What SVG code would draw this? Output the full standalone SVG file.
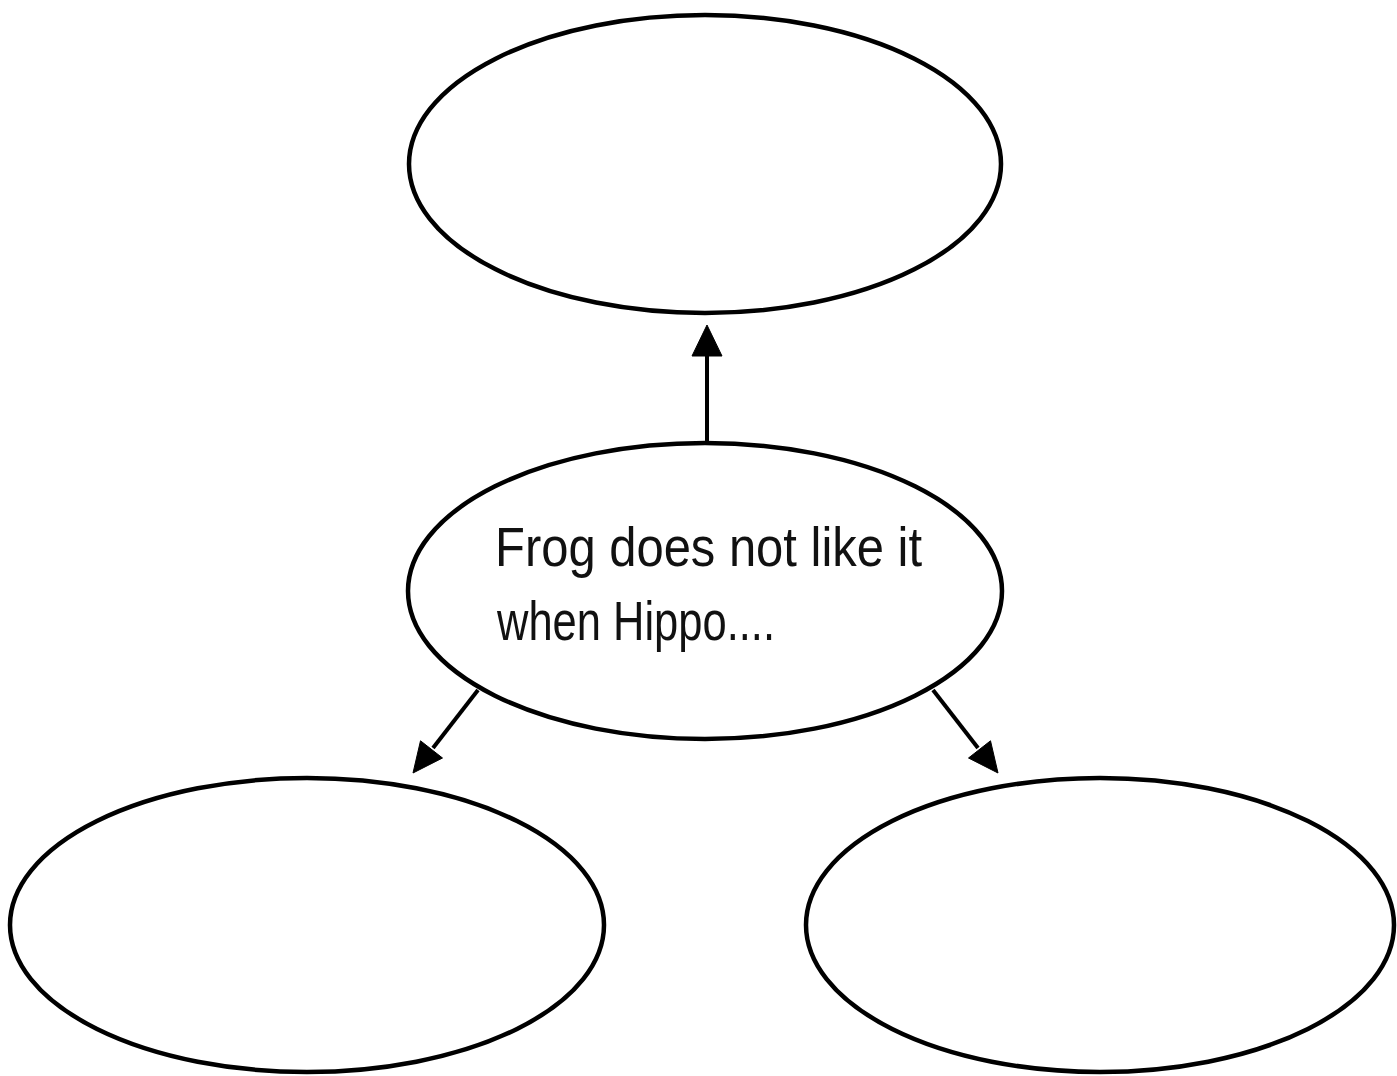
<svg xmlns="http://www.w3.org/2000/svg" width="1397" height="1076" viewBox="0 0 1397 1076">
<style>
.node{fill:#fff;stroke:#000;stroke-width:4.5}
.conn{stroke:#000;stroke-width:4;fill:none}
.head{fill:#000;stroke:#000;stroke-width:1;stroke-linejoin:miter}
.lbl{font-family:"Liberation Sans","DejaVu Sans",sans-serif;font-size:56px;fill:#111}
</style>
<rect width="1397" height="1076" fill="#fff"/>
<g id="connectors">
<line class="conn" x1="707" y1="443" x2="707" y2="352"/>
<polygon class="head" points="707,325 692,356 722,356"/>
<line class="conn" x1="478" y1="690" x2="433" y2="748"/>
<polygon class="head" points="413,773 442.5,758 420.5,740.8"/>
<line class="conn" x1="933" y1="690" x2="978" y2="748"/>
<polygon class="head" points="998,773 968.5,758 990.5,740.8"/>
</g>
<g id="top"><ellipse class="node" cx="705" cy="164" rx="296" ry="149"/></g>
<g id="center"><ellipse class="node" cx="705" cy="591" rx="297" ry="148"/>
<text class="lbl" x="495" y="566" textLength="427" lengthAdjust="spacingAndGlyphs">Frog does not like it</text>
<text class="lbl" x="497" y="640" textLength="278" lengthAdjust="spacingAndGlyphs">when Hippo....</text>
</g>
<g id="bottom-left"><ellipse class="node" cx="307" cy="925" rx="297" ry="147"/></g>
<g id="bottom-right"><ellipse class="node" cx="1100" cy="925" rx="294" ry="147"/></g>
</svg>
